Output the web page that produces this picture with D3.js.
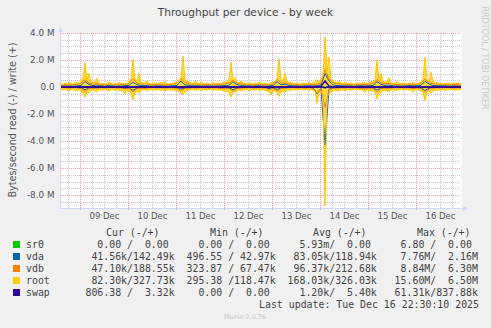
<!DOCTYPE html>
<html><head><meta charset="utf-8">
<script src="https://cdn.jsdelivr.net/npm/d3@7"></script>
<style>
html,body{margin:0;padding:0;background:#F0F0F0;}
svg{display:block;}
text{font-family:"DejaVu Sans",sans-serif;}
.mono{font-family:"DejaVu Sans Mono",monospace;white-space:pre;}
</style></head><body>
<svg id="c" width="491" height="328"></svg>
<script>
// ---------- data ----------
const title = "Throughput per device - by week";
const yLabel = "Bytes/second read (-) / write (+)";
const devices = ["sr0", "vda", "vdb", "root", "swap"];
const colors = ["#00CC00", "#0066B3", "#FF8000", "#FFCC00", "#330099"];
const startTime = Date.UTC(2025, 11, 8, 14, 30);
const endTime = Date.UTC(2025, 11, 16, 22, 30);
const rootStepHours = 1;   // root sampled hourly (MB/s)
const diskStepHours = 2;   // vda, vdb, swap sampled every 2 hours (MB/s)
const yTicks = [-8, -6, -4, -2, 0, 2, 4];
const yTickLabels = ["-8.0 M", "-6.0 M", "-4.0 M", "-2.0 M", "0.0", "2.0 M", "4.0 M"];
const xTickDays = [9, 10, 11, 12, 13, 14, 15, 16];
const xTickLabels = ["09 Dec", "10 Dec", "11 Dec", "12 Dec", "13 Dec", "14 Dec", "15 Dec", "16 Dec"];

const rootWrite = [
 0.25,0.18,0.30,0.22,0.35,0.28,0.20,0.32,0.40,0.25,
 0.45,0.70,1.80,0.55,1.00,0.40,0.30,0.45,0.65,0.30,
 0.22,0.30,0.18,0.28,0.40,0.25,0.20,0.30,0.24,0.35,
 0.28,0.22,0.30,0.25,0.40,0.60,2.05,0.55,0.45,1.00,
 0.35,0.30,0.25,0.45,0.28,0.20,0.32,0.25,0.30,0.22,
 0.35,0.28,0.40,0.25,0.20,0.30,0.25,0.35,0.30,0.50,
 0.70,2.30,0.60,0.40,0.35,0.30,0.25,0.45,0.30,0.22,
 0.35,0.28,0.22,0.30,0.25,0.20,0.32,0.28,0.25,0.30,
 0.22,0.35,0.30,0.40,0.60,1.85,0.55,0.70,0.35,0.30,
 0.45,0.30,0.25,0.22,0.30,0.28,0.20,0.30,0.25,0.35,
 0.28,0.22,0.30,0.25,0.20,0.35,0.30,0.40,0.55,2.10,
 0.60,0.45,1.00,0.40,0.30,0.35,0.25,0.22,0.30,0.25,
 0.20,0.30,0.28,0.22,0.35,0.25,0.30,0.40,0.55,0.35,
 0.50,0.90,3.70,1.20,2.20,0.60,0.45,0.35,0.30,0.45,
 0.30,0.25,0.35,0.28,0.22,0.30,0.25,0.20,0.30,0.28,
 0.22,0.35,0.30,0.25,0.30,0.40,0.35,0.55,2.00,0.60,
 1.00,0.45,0.35,0.40,0.70,0.30,0.25,0.30,0.40,0.28,
 0.22,0.30,0.25,0.20,0.30,0.28,0.35,0.25,0.22,0.30,
 0.35,0.60,2.20,0.55,0.40,1.10,0.45,0.30,0.35,0.25,
 0.30,0.22,0.28,0.25,0.30,0.20,0.28,0.32,0.25,0.30,
 0.25];
const rootRead = [
 -0.18,-0.25,-0.15,-0.22,-0.28,-0.20,-0.15,-0.25,-0.30,-0.20,
 -0.35,-0.40,-0.75,-0.35,-0.45,-0.25,-0.20,-0.30,-0.35,-0.22,
 -0.18,-0.25,-0.15,-0.22,-0.30,-0.20,-0.18,-0.25,-0.20,-0.28,
 -0.22,-0.30,-0.50,-0.25,-0.30,-0.40,-0.95,-0.40,-0.30,-0.45,
 -0.25,-0.20,-0.18,-0.28,-0.22,-0.15,-0.25,-0.20,-0.22,-0.18,
 -0.25,-0.20,-0.28,-0.22,-0.18,-0.25,-0.20,-0.28,-0.25,-0.35,
 -0.40,-0.60,-0.35,-0.25,-0.22,-0.20,-0.18,-0.25,-0.22,-0.18,
 -0.25,-0.20,-0.18,-0.22,-0.20,-0.15,-0.25,-0.22,-0.18,-0.25,
 -0.20,-0.28,-0.35,-0.30,-0.40,-0.75,-0.35,-0.40,-0.25,-0.22,
 -0.30,-0.22,-0.18,-0.20,-0.25,-0.22,-0.15,-0.22,-0.20,-0.25,
 -0.22,-0.18,-0.25,-0.30,-0.35,-0.60,-0.30,-0.28,-0.35,-0.70,
 -0.35,-0.30,-0.40,-0.25,-0.22,-0.25,-0.18,-0.20,-0.22,-0.18,
 -0.15,-0.22,-0.20,-0.18,-0.25,-0.20,-0.22,-0.30,-1.20,-0.40,
 -0.35,-0.60,-8.80,-0.70,-0.50,-0.35,-0.30,-0.25,-0.28,-0.30,
 -0.22,-0.20,-0.25,-0.22,-0.18,-0.25,-0.20,-0.15,-0.22,-0.20,
 -0.18,-0.25,-0.40,-0.22,-0.25,-0.30,-0.25,-0.35,-0.90,-0.35,
 -0.40,-0.28,-0.25,-0.30,-0.35,-0.22,-0.18,-0.25,-0.22,-0.20,
 -0.18,-0.22,-0.20,-0.15,-0.25,-0.22,-0.40,-0.22,-0.18,-0.25,
 -0.25,-0.35,-1.00,-0.40,-0.30,-0.45,-0.28,-0.22,-0.25,-0.20,
 -0.22,-0.18,-0.25,-0.20,-0.22,-0.15,-0.20,-0.25,-0.18,-0.22,
 -0.20];
const vdbWrite = [
 0.15,0.18,0.14,0.16,0.20,0.30,0.55,0.30,0.22,0.28,
 0.18,0.15,0.22,0.18,0.15,0.18,0.20,0.26,0.60,0.30,
 0.20,0.28,0.18,0.15,0.22,0.18,0.15,0.18,0.20,0.28,
 0.65,0.32,0.25,0.20,0.22,0.15,0.20,0.18,0.15,0.18,
 0.18,0.25,0.28,0.50,0.30,0.26,0.18,0.20,0.15,0.22,
 0.18,0.15,0.18,0.22,0.60,0.30,0.30,0.25,0.20,0.18,
 0.15,0.18,0.22,0.18,0.20,0.30,1.30,0.60,0.30,0.25,
 0.22,0.18,0.20,0.15,0.18,0.22,0.18,0.20,0.26,0.55,
 0.30,0.25,0.28,0.20,0.18,0.15,0.18,0.22,0.18,0.20,
 0.26,0.60,0.30,0.25,0.22,0.18,0.20,0.15,0.18,0.18,
 0.15];
const vdbRead = [
 -0.06,-0.05,-0.08,-0.05,-0.07,-0.10,-0.30,-0.12,-0.08,-0.10,
 -0.05,-0.07,-0.06,-0.05,-0.08,-0.06,-0.15,-0.10,-0.35,-0.12,
 -0.08,-0.10,-0.06,-0.05,-0.07,-0.05,-0.08,-0.06,-0.07,-0.10,
 -0.25,-0.12,-0.08,-0.06,-0.07,-0.05,-0.06,-0.08,-0.05,-0.06,
 -0.12,-0.08,-0.10,-0.30,-0.12,-0.08,-0.06,-0.05,-0.07,-0.06,
 -0.06,-0.08,-0.20,-0.10,-0.28,-0.12,-0.08,-0.06,-0.05,-0.07,
 -0.06,-0.08,-0.05,-0.10,-0.45,-0.15,-1.50,-0.20,-0.10,-0.08,
 -0.06,-0.07,-0.05,-0.08,-0.06,-0.12,-0.15,-0.07,-0.10,-0.35,
 -0.12,-0.08,-0.10,-0.06,-0.07,-0.05,-0.08,-0.06,-0.12,-0.07,
 -0.10,-0.40,-0.15,-0.08,-0.06,-0.07,-0.05,-0.06,-0.08,-0.06,
 -0.07];
const vdaWrite = [
 0.08,0.07,0.09,0.07,0.08,0.12,0.40,0.20,0.10,0.15,
 0.08,0.07,0.10,0.08,0.07,0.08,0.09,0.12,0.35,0.18,
 0.10,0.12,0.08,0.07,0.09,0.08,0.07,0.08,0.09,0.12,
 0.45,0.16,0.12,0.08,0.10,0.07,0.08,0.08,0.07,0.08,
 0.08,0.11,0.13,0.38,0.18,0.12,0.08,0.09,0.07,0.10,
 0.08,0.07,0.08,0.11,0.40,0.16,0.20,0.12,0.08,0.08,
 0.07,0.08,0.10,0.08,0.09,0.16,1.00,0.45,0.15,0.11,
 0.10,0.08,0.09,0.07,0.08,0.10,0.08,0.09,0.12,0.40,
 0.20,0.12,0.15,0.08,0.08,0.07,0.08,0.10,0.08,0.09,
 0.12,0.42,0.22,0.11,0.10,0.08,0.09,0.07,0.08,0.08,
 0.07];
const vdaRead = [
 -0.04,-0.03,-0.05,-0.04,-0.04,-0.06,-0.20,-0.08,-0.05,-0.06,
 -0.04,-0.05,-0.04,-0.03,-0.05,-0.04,-0.12,-0.06,-0.25,-0.08,
 -0.05,-0.06,-0.04,-0.03,-0.05,-0.04,-0.05,-0.04,-0.05,-0.06,
 -0.15,-0.07,-0.05,-0.04,-0.05,-0.03,-0.04,-0.05,-0.04,-0.04,
 -0.08,-0.05,-0.06,-0.20,-0.08,-0.05,-0.04,-0.03,-0.05,-0.04,
 -0.04,-0.05,-0.12,-0.06,-0.18,-0.07,-0.05,-0.04,-0.03,-0.05,
 -0.04,-0.05,-0.04,-0.06,-0.50,-0.10,-4.30,-0.15,-0.06,-0.05,
 -0.04,-0.05,-0.04,-0.05,-0.04,-0.07,-0.08,-0.05,-0.06,-0.22,
 -0.08,-0.05,-0.06,-0.04,-0.05,-0.03,-0.05,-0.04,-0.08,-0.05,
 -0.06,-0.25,-0.09,-0.05,-0.04,-0.05,-0.03,-0.04,-0.05,-0.04,
 -0.05];
const swapWrite = [
 0,0,0,0,0,0,0.02,0,0,0,
 0,0,0,0,0,0,0,0,0.01,0,
 0,0,0,0,0,0,0,0,0,0,
 0,0,0,0,0,0,0,0,0,0,
 0,0,0,0,0,0,0,0,0,0,
 0,0,0,0,0,0,0,0,0,0,
 0,0,0,0,0,0.05,0.45,0.08,0,0,
 0,0,0,0,0,0,0,0,0,0,
 0,0,0,0,0,0,0,0,0,0,
 0,0,0,0,0,0,0,0,0,0,
 0];
const swapRead = [
 0,0,0,0,0,0,0,0,0,0,
 0,0,0,0,0,0,0,0,0,0,
 0,0,0,0,0,0,0,0,0,0,
 0,0,0,0,0,0,0,0,0,0,
 0,0,0,0,0,0,0,0,0,0,
 0,0,0,0,0,0,0,0,0,0,
 0,0,0,0,0,0,-0.06,0,0,0,
 0,0,0,0,0,0,0,0,0,0,
 0,0,0,0,0,0,0,0,0,0,
 0,0,0,0,0,0,0,0,0,0,
 0];
const sr0Write = [0, 0];  // flat zero over the whole range
const sr0Read = [0, 0];

const legendCur = ["  0.00 /  0.00 ", " 41.56k/142.49k", " 47.10k/188.55k", " 82.30k/327.73k", "806.38 /  3.32k"];
const legendMin = ["  0.00 /  0.00 ", "496.55 / 42.97k", "323.87 / 67.47k", "295.38 /118.47k", "  0.00 /  0.00 "];
const legendAvg = ["  5.93m/  0.00 ", " 83.05k/118.94k", " 96.37k/212.68k", "168.03k/326.03k", "  1.20k/  5.40k"];
const legendMax = ["  6.80 /  0.00 ", "  7.76M/  2.16M", "  8.84M/  6.30M", " 15.60M/  6.50M", " 61.31k/837.88k"];
const legendHeaders = ["Cur (-/+)", "Min (-/+)", "Avg (-/+)", "Max (-/+)"];
const lastUpdate = "Last update: Tue Dec 16 22:30:10 2025";
const footer = "Munin 2.0.76";
const watermark = "RRDTOOL / TOBI OETIKER";

// ---------- drawing ----------
const svg = d3.select("#c");
svg.append("rect").attr("width", 491).attr("height", 328).attr("fill", "#F0F0F0");

const x = d3.scaleTime().domain([new Date(startTime), new Date(endTime)]).range([61, 461]);
const y = d3.scaleLinear().domain([-9, 4]).range([208.5, 33]);
const px = v => Math.round(v) + 0.5;

// canvas
svg.append("rect").attr("x", 61).attr("y", 33).attr("width", 401).attr("height", 175).attr("fill", "#FFFFFF");

// grid
const grid = svg.append("g");
const hMinor = d3.range(-8.5, 4.01, 0.5).filter(v => Math.abs(v % 2) > 1e-9);
grid.selectAll(".hmin").data(hMinor).join("line")
  .attr("x1", 61).attr("x2", 461).attr("y1", d => px(y(d))).attr("y2", d => px(y(d)))
  .attr("stroke", "#C8C8C8").attr("stroke-dasharray", "1,1");
const sixHours = d3.utcHour.every(6).range(new Date(startTime), new Date(endTime)).filter(d => d.getUTCHours() !== 0);
grid.selectAll(".vmin").data(sixHours).join("line")
  .attr("x1", d => px(x(d))).attr("x2", d => px(x(d))).attr("y1", 33).attr("y2", 208)
  .attr("stroke", "#C8C8C8").attr("stroke-dasharray", "1,1");
grid.selectAll(".hmaj").data(yTicks).join("line")
  .attr("x1", 61).attr("x2", 461).attr("y1", d => px(y(d))).attr("y2", d => px(y(d)))
  .attr("stroke", "#EFA0A0").attr("stroke-dasharray", "1,1");
const midnights = d3.utcDay.range(new Date(startTime), new Date(endTime));
grid.selectAll(".vmaj").data(midnights).join("line")
  .attr("x1", d => px(x(d))).attr("x2", d => px(x(d))).attr("y1", 33).attr("y2", 211)
  .attr("stroke", "#EFA0A0").attr("stroke-dasharray", "1,1");

// series
const toPts = (arr, step) => arr.map((v, i) => ({t: new Date(startTime + i * step * 3600e3), v}));
const sr0Times = [new Date(startTime), new Date(endTime)];
const line = d3.line().x(d => x(d.t)).y(d => y(d.v));
const area = d3.area().x(d => x(d.t)).y0(y(0)).y1(d => y(d.v));
const plot = svg.append("g");

// root as filled band (dense 30-min line in the original)
[rootWrite, rootRead].forEach(a => {
  plot.append("path").attr("d", area(toPts(a, rootStepHours))).attr("fill", "#FFCC00").attr("fill-opacity", 0.75);
});
// sr0
[sr0Write, sr0Read].forEach(a => {
  plot.append("path").attr("d", line(a.map((v, i) => ({t: sr0Times[i], v}))))
    .attr("fill", "none").attr("stroke", colors[0]).attr("stroke-width", 1);
});
// vda, vdb
[[vdaWrite, vdaRead, colors[1]], [vdbWrite, vdbRead, colors[2]]].forEach(([w, r, c]) => {
  [w, r].forEach(a => plot.append("path").attr("d", line(toPts(a, diskStepHours)))
    .attr("fill", "none").attr("stroke", c).attr("stroke-width", 1));
});
// root line
[rootWrite, rootRead].forEach(a => {
  plot.append("path").attr("d", line(toPts(a, rootStepHours))).attr("fill", "none").attr("stroke", "#FFC400").attr("stroke-width", 1);
});
// swap
[swapWrite, swapRead].forEach(a => {
  plot.append("path").attr("d", line(toPts(a, diskStepHours))).attr("fill", "none").attr("stroke", colors[4]).attr("stroke-width", 1.5);
});

// axes lines + arrows
const axisCol = "#CFD6F8";
svg.append("line").attr("x1", 60.5).attr("x2", 60.5).attr("y1", 209).attr("y2", 30).attr("stroke", axisCol);
svg.append("path").attr("d", "M58,32 L63,32 L60.5,27 Z").attr("fill", axisCol);
svg.append("line").attr("x1", 60).attr("x2", 465).attr("y1", 208.5).attr("y2", 208.5).attr("stroke", axisCol);
svg.append("path").attr("d", "M463,206 L463,211 L468,208.5 Z").attr("fill", axisCol);

// y axis labels
const yAxis = d3.axisLeft(y).tickValues(yTicks).tickSize(0).tickPadding(6.5)
  .tickFormat((d, i) => yTickLabels[i]);
const gy = svg.append("g").attr("transform", "translate(61,0)").call(yAxis);
gy.select(".domain").remove();
gy.selectAll("text").attr("font-family", "DejaVu Sans").attr("font-size", "8.8px").attr("fill", "#555");

// x axis labels (centered at noon)
const xTickDates = xTickDays.map(d => new Date(Date.UTC(2025, 11, d, 12, 0)));
const xAxis = d3.axisBottom(x).tickValues(xTickDates).tickSize(0).tickPadding(5)
  .tickFormat((d, i) => xTickLabels[i]);
const gx = svg.append("g").attr("transform", "translate(0,208)").call(xAxis);
gx.select(".domain").remove();
gx.selectAll("text").attr("font-family", "DejaVu Sans").attr("font-size", "8.5px").attr("fill", "#555");

// title & labels
svg.append("text").attr("x", 245.5).attr("y", 15.5).attr("text-anchor", "middle")
  .attr("font-size", "10.6px").attr("fill", "#444").text(title);
svg.append("text").attr("transform", "translate(15.5,120) rotate(-90)").attr("text-anchor", "middle")
  .attr("font-size", "9.6px").attr("fill", "#555").text(yLabel);
svg.append("text").attr("transform", "translate(482,58) rotate(90)").attr("text-anchor", "middle")
  .attr("font-size", "8px").attr("fill", "#C8C8C8").text(watermark);

// legend
const lg = svg.append("g");
const fs = 9.9;
legendHeaders.forEach((h, i) => {
  lg.append("text").attr("class", "mono").attr("x", [106, 210, 313, 417][i]).attr("y", 236)
    .attr("font-size", fs + "px").attr("fill", "#444").text(h);
});
devices.forEach((dv, i) => {
  const by = 248 + i * 12;
  lg.append("rect").attr("x", 13).attr("y", by - 7).attr("width", 7).attr("height", 7).attr("fill", colors[i]);
  const row = dv.padEnd(10, " ") + legendCur[i] + "  " + legendMin[i] + "  " + legendAvg[i] + "  " + legendMax[i];
  lg.append("text").attr("class", "mono").attr("x", 26).attr("y", by)
    .attr("font-size", fs + "px").attr("fill", "#444").text(row);
});
lg.append("text").attr("class", "mono").attr("x", 479).attr("y", 308).attr("text-anchor", "end")
  .attr("font-size", fs + "px").attr("fill", "#444").text(lastUpdate);
svg.append("text").attr("x", 245).attr("y", 319).attr("text-anchor", "middle")
  .attr("font-size", "6.4px").attr("fill", "#C8C8C8").text(footer);
</script>
</body></html>
